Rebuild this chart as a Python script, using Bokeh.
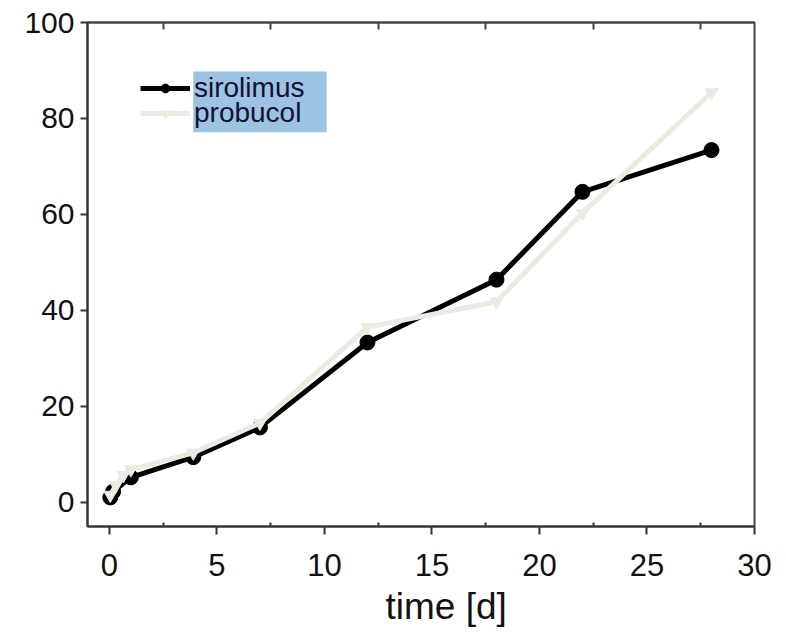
from bokeh.plotting import figure
from bokeh.models import (ColumnDataSource, Legend, LegendItem, LinearAxis, FixedTicker,
                          Range1d, BoxAnnotation, Title)
from bokeh.embed import file_html
from bokeh.resources import INLINE

# ---- data ----
time_sirolimus = [0.04, 0.17, 1.0, 3.9, 7.0, 12.0, 18.0, 22.0, 28.0]
sirolimus = [1.0, 2.2, 5.2, 9.4, 15.6, 33.3, 46.4, 64.7, 73.4]
time_probucol = [0.04, 0.3, 0.65, 1.0, 3.9, 7.0, 12.0, 18.0, 22.0, 28.0]
probucol = [1.5, 3.5, 5.6, 6.8, 10.3, 16.5, 36.5, 41.8, 60.3, 85.4]
x_ticks = [0, 5, 10, 15, 20, 25, 30]
x_minor = [2.5, 7.5, 12.5, 17.5, 22.5, 27.5]
y_ticks = [0, 20, 40, 60, 80, 100]
x_label = "time [d]"

FONT = "Liberation Sans"
LIGHT = "#ECEBE2"

p = figure(frame_width=667, frame_height=504, output_backend="svg", toolbar_location=None,
           x_range=Range1d(-1.02, 30), y_range=Range1d(-5.06, 100),
           x_axis_location=None, y_axis_location=None,
           min_border_left=87, min_border_right=24, min_border_top=22, min_border_bottom=100)
p.grid.visible = False
p.outline_line_color = "#444444"
p.outline_line_width = 2
p.background_fill_color = "white"
p.border_fill_color = "white"

# axes
xb = LinearAxis(ticker=FixedTicker(ticks=x_ticks, minor_ticks=x_minor))
xb.major_tick_in = 0
xb.major_tick_out = 8
xb.minor_tick_in = 4
xb.minor_tick_out = 0
xb.axis_line_width = 2
xb.axis_line_color = "#333333"
xb.major_tick_line_width = 2
xb.minor_tick_line_width = 2
xb.major_tick_line_color = "#333333"
xb.minor_tick_line_color = "#333333"
xb.major_label_text_font = FONT
xb.major_label_text_font_size = "31px"
xb.major_label_text_color = "#111111"
xb.major_label_standoff = 19
p.add_layout(xb, "below")

xt = LinearAxis(ticker=FixedTicker(ticks=x_minor, minor_ticks=[]))
xt.major_tick_in = 7
xt.major_tick_out = 0
xt.minor_tick_in = 0
xt.minor_tick_out = 0
xt.axis_line_width = 2
xt.axis_line_color = "#444444"
xt.major_tick_line_width = 2
xt.major_tick_line_color = "#444444"
xt.major_label_text_font_size = "0px"
xt.major_label_text_alpha = 0
p.add_layout(xt, "above")

yl = LinearAxis(ticker=FixedTicker(ticks=y_ticks, minor_ticks=[]))
yl.major_tick_in = 0
yl.major_tick_out = 7
yl.axis_line_width = 2
yl.axis_line_color = "#333333"
yl.major_tick_line_width = 2
yl.major_tick_line_color = "#333333"
yl.major_label_text_font = FONT
yl.major_label_text_font_size = "30px"
yl.major_label_text_color = "#111111"
yl.major_label_standoff = 6
p.add_layout(yl, "left")

# x axis title, placed like the reference (right of centre)
t = Title(text=x_label, align="left", offset=298, standoff=11,
          text_font=FONT, text_font_size="37px", text_font_style="normal",
          text_color="#111111")
p.add_layout(t, "below")

# data
src_s = ColumnDataSource(dict(x=time_sirolimus, y=sirolimus))
src_p = ColumnDataSource(dict(x=time_probucol, y=probucol))

ls = p.line("x", "y", source=src_s, line_color="black", line_width=5)
ms = p.scatter("x", "y", source=src_s, marker="circle", size=15, fill_color="black", line_color="black")
lp = p.line("x", "y", source=src_p, line_color=LIGHT, line_width=5)
mp = p.scatter("x", "y", source=src_p, marker="inverted_triangle", size=13, fill_color=LIGHT, line_color=LIGHT)

# legend highlight
hl = BoxAnnotation(left=3.9, right=10.1, top=89.8, bottom=77.1,
                   fill_color="#9DC3E2", fill_alpha=1.0, line_alpha=0)
p.add_layout(hl)

common = dict(orientation="vertical", background_fill_alpha=0, border_line_alpha=0,
              glyph_width=50, glyph_height=22, label_height=22,
              label_standoff=4, spacing=0, padding=0, margin=0,
              label_text_font=FONT, label_text_font_size="28px",
              label_text_color="#111133")
leg1 = Legend(items=[LegendItem(label="sirolimus", renderers=[ls, ms])],
              location=(53, 422), **common)
leg2 = Legend(items=[LegendItem(label="probucol", renderers=[lp, mp])],
              location=(53, 397), **common)
p.add_layout(leg2, "center")
p.add_layout(leg1, "center")

open("out.html", "w").write(file_html(p, INLINE))
